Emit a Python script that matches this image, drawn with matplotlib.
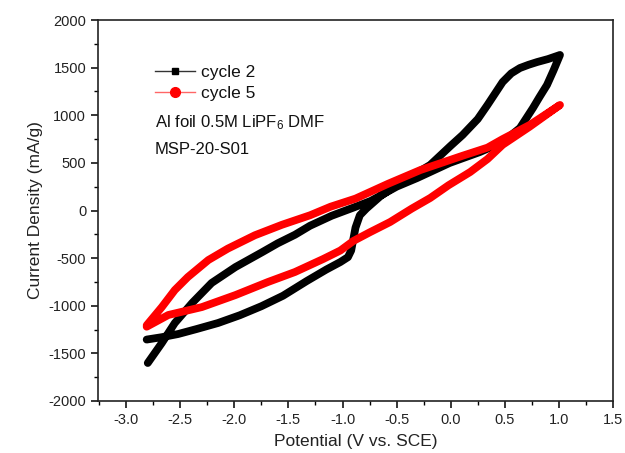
import matplotlib
matplotlib.use("Agg")
import matplotlib.pyplot as plt
from matplotlib.lines import Line2D
from matplotlib.ticker import MultipleLocator

plt.rcParams['font.family'] = ['Liberation Sans', 'DejaVu Sans']
plt.rcParams['mathtext.fontset'] = 'custom'
plt.rcParams['mathtext.rm'] = 'Liberation Sans'
plt.rcParams['mathtext.it'] = 'Liberation Sans:italic'

# Cycle 2: anodic sweep then cathodic sweep (V vs. SCE, mA/g)
c2_fwd_v = [-2.81, -2.67, -2.52, -2.35, -2.15, -1.95, -1.75, -1.55, -1.33, -1.15,
            -1.02, -0.95, -0.92, -0.88, -0.84, -0.78, -0.65, -0.50, -0.35, -0.19,
            0.00, 0.11, 0.25, 0.34, 0.48, 0.56, 0.64, 0.72, 0.80, 0.90, 1.01]
c2_fwd_j = [-1355, -1330, -1297, -1245, -1181, -1100, -1005, -895, -740, -620,
            -541, -490, -420, -180, -50, 20, 150, 268, 370, 478,
            680, 793, 960, 1108, 1349, 1440, 1496, 1530, 1559, 1590, 1633]
c2_rev_v = [1.01, 0.95, 0.89, 0.82, 0.76, 0.64, 0.48, 0.27, -0.01, -0.31,
            -0.50, -0.74, -0.90, -1.10, -1.30, -1.44, -1.60, -1.74, -1.99, -2.21,
            -2.39, -2.55, -2.67, -2.80]
c2_rev_j = [1633, 1470, 1318, 1190, 1076, 866, 719, 614, 499, 341,
            250, 100, 30, -55, -160, -255, -345, -436, -594, -761,
            -971, -1181, -1391, -1601]

# Cycle 5
c5_fwd_v = [-2.81, -2.67, -2.55, -2.43, -2.24, -2.06, -1.81, -1.56, -1.30, -1.11,
            -0.88, -0.58, -0.28, 0.11, 0.34, 0.48, 0.73, 1.01]
c5_fwd_j = [-1205, -1014, -835, -699, -520, -400, -260, -150, -50, 40,
            125, 280, 425, 575, 660, 750, 898, 1108]
c5_rev_v = [1.01, 0.73, 0.48, 0.34, 0.18, -0.02, -0.19, -0.36, -0.56, -0.75,
            -0.90, -1.02, -1.18, -1.44, -1.69, -1.99, -2.30, -2.61, -2.81]
c5_rev_j = [1108, 880, 690, 540, 404, 265, 131, 20, -121, -230,
            -320, -420, -510, -646, -751, -888, -1014, -1097, -1220]

x_ticks = [-3.0, -2.5, -2.0, -1.5, -1.0, -0.5, 0.0, 0.5, 1.0, 1.5]
y_ticks = [-2000, -1500, -1000, -500, 0, 500, 1000, 1500, 2000]

fig = plt.figure(figsize=(6.25, 4.53), dpi=100)
ax = fig.add_axes([98 / 625, 1 - 401 / 453, (613 - 98) / 625, (401 - 20) / 453])

black = '#000000'
red = '#ff0000'
line_kw = dict(lw=5.6, solid_capstyle='round', solid_joinstyle='round')
ax.plot(c2_fwd_v + c2_rev_v, c2_fwd_j + c2_rev_j, color=black, **line_kw)
ax.plot(c5_fwd_v + c5_rev_v, c5_fwd_j + c5_rev_j, color=red, **line_kw)

ax.set_xlim(-3.26, 1.5)
ax.set_ylim(-2000, 2000)
ax.set_xticks(x_ticks)
ax.set_yticks(y_ticks)
ax.set_xticklabels([f'{t:.1f}' for t in x_ticks])
ax.set_yticklabels([f'{t}' for t in y_ticks])
ax.xaxis.set_minor_locator(MultipleLocator(0.25))
ax.yaxis.set_minor_locator(MultipleLocator(250))
ax.tick_params(which='major', direction='out', length=5, width=1.1,
               labelsize=10.5, labelcolor='#222222', top=False, right=False)
ax.tick_params(which='minor', direction='out', length=3, width=1.0, top=False, right=False)
for s in ax.spines.values():
    s.set_linewidth(1.2)
    s.set_color('#222222')

ax.set_xlabel('Potential (V vs. SCE)', fontsize=12.5, color='#222222', labelpad=5)
ax.set_ylabel('Current Density (mA/g)', fontsize=12.5, color='#222222', labelpad=4)

handles = [
    Line2D([], [], color='#333333', lw=1.0, marker='s', markersize=5, markerfacecolor=black,
           markeredgecolor=black),
    Line2D([], [], color='#ff6666', lw=1.0, marker='o', markersize=7, markerfacecolor=red,
           markeredgecolor=red),
]
ax.legend(handles, ['cycle 2', 'cycle 5'], loc='upper left', frameon=False,
          bbox_to_anchor=(155 / 625, 1 - 65 / 453), bbox_transform=fig.transFigure,
          borderpad=0, borderaxespad=0, handlelength=2.3, handletextpad=0.35,
          labelspacing=0.35, fontsize=12.5, labelcolor='#111111')

fig.text(155 / 625, 1 - 123 / 453, r'Al foil 0.5M LiPF$_{\mathrm{6}}$ DMF', fontsize=12,
         color='#111111', va='center', ha='left')
fig.text(155 / 625, 1 - 149 / 453, 'MSP-20-S01', fontsize=12, color='#111111',
         va='center', ha='left')

fig.savefig('out.png', dpi=100, facecolor='white')
